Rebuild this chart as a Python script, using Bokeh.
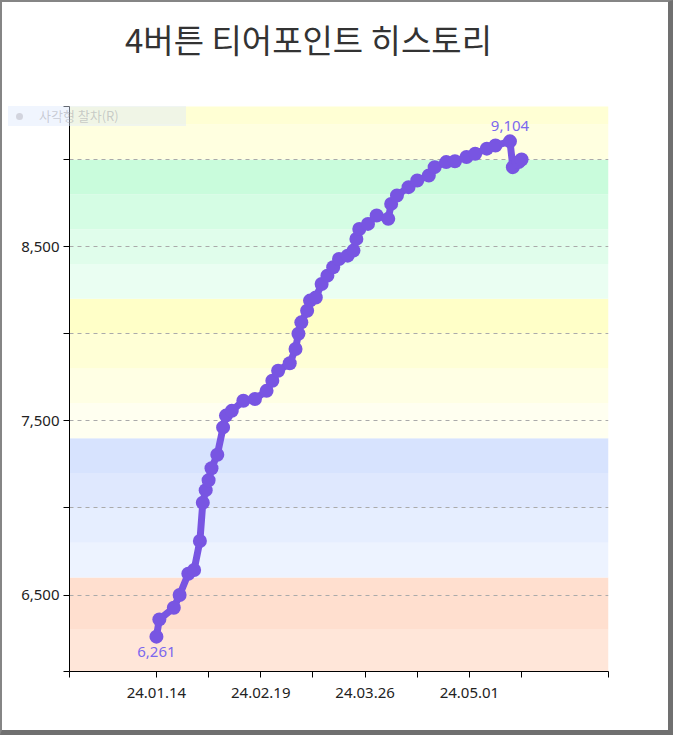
import numpy as np
from bokeh.plotting import figure
from bokeh.models import (Range1d, FixedTicker, ColumnDataSource, Div)
from bokeh.layouts import column
from bokeh.core.properties import value
from bokeh.embed import file_html
from bokeh.resources import INLINE

# ---------------- data ----------------
title_text = "4버튼 티어포인트 히스토리"
legend_label = "사각형 찰차(R)"

dates = ["2024-01-14", "2024-01-15", "2024-01-20", "2024-01-22", "2024-01-25",
         "2024-01-27", "2024-01-29", "2024-01-30", "2024-01-31", "2024-02-01",
         "2024-02-02", "2024-02-04", "2024-02-06", "2024-02-07", "2024-02-09",
         "2024-02-13", "2024-02-17", "2024-02-21", "2024-02-23", "2024-02-25",
         "2024-02-29", "2024-03-02", "2024-03-03", "2024-03-04", "2024-03-06",
         "2024-03-07", "2024-03-09", "2024-03-11", "2024-03-13", "2024-03-15",
         "2024-03-17", "2024-03-20", "2024-03-22", "2024-03-23", "2024-03-24",
         "2024-03-27", "2024-03-30", "2024-04-03", "2024-04-04", "2024-04-06",
         "2024-04-10", "2024-04-13", "2024-04-17", "2024-04-19", "2024-04-23",
         "2024-04-26", "2024-04-30", "2024-05-03", "2024-05-07", "2024-05-10",
         "2024-05-15", "2024-05-16", "2024-05-18", "2024-05-19"]

tier_points = [6261, 6360, 6427, 6500, 6622, 6644, 6810, 7030, 7102, 7159,
               7228, 7305, 7462, 7530, 7557, 7615, 7625, 7672, 7730, 7787,
               7830, 7912, 8000, 8065, 8132, 8190, 8208, 8285, 8333, 8381,
               8429, 8448, 8477, 8544, 8601, 8630, 8678, 8659, 8745, 8793,
               8841, 8879, 8908, 8956, 8985, 8990, 9014, 9033, 9062, 9080,
               9104, 8956, 8985, 9000]

band_low = [6000, 6300, 6600, 6800, 7000, 7200, 7400, 7600, 7800, 8000,
            8200, 8400, 8600, 8800, 9000, 9200]
band_high = [6300, 6600, 6800, 7000, 7200, 7400, 7600, 7800, 8000, 8200,
             8400, 8600, 8800, 9000, 9200, 9400]
band_colors = ["#ffe6d9", "#ffdfcf",
               "#edf3ff", "#e6eeff", "#dfe8fe", "#d7e3fe",
               "#fffff0", "#ffffe4", "#ffffd6", "#ffffc8",
               "#eafef2", "#e0fdeb", "#d5fde4", "#c9fcdc",
               "#ffffe0", "#ffffd4"]

y_grid_ticks = [6500, 7000, 7500, 8000, 8500, 9000]
y_labels = {6500: "6,500", 7500: "7,500", 8500: "8,500"}
x_tick_step_days = 18

# ---------------- derived ----------------
d = np.array(dates, dtype="datetime64[D]")
x_days = (d - d[0]).astype(int)
y = np.array(tier_points)

x_start = int(x_days.min()) - 30
x_end = int(x_days.max()) + 30
y_start = int(y.min()) - 200
y_end = int(y.max()) + 200

line_color = "#7855e2"
label_color = "#7b68ee"

p = figure(width=666, height=728, output_backend="svg", toolbar_location=None,
           x_range=Range1d(x_start, x_end), y_range=Range1d(y_start, y_end),
           min_border_left=67, min_border_right=60, min_border_top=104,
           min_border_bottom=59)
p.outline_line_color = None
p.background_fill_color = "white"
p.border_fill_color = "white"

# tier bands
bsrc = ColumnDataSource(dict(bottom=band_low, top=band_high, color=band_colors,
                             left=[x_start] * len(band_low),
                             right=[x_end] * len(band_low)))
p.quad(left="left", right="right", bottom="bottom", top="top", fill_color="color",
       line_color=None, source=bsrc, level="image")

# grid
p.xgrid.visible = False
p.ygrid.ticker = FixedTicker(ticks=y_grid_ticks)
p.ygrid.grid_line_color = "#aaaaaa"
p.ygrid.grid_line_dash = "4 4"
p.ygrid.grid_line_width = 1
p.ygrid.level = "underlay"

# line + points
src = ColumnDataSource(dict(x=x_days, y=y))
p.line("x", "y", source=src, line_width=7, line_color=line_color, line_join="round")
p.scatter("x", "y", source=src, size=14, fill_color=line_color, line_color=None)

# min / max labels
imax = int(np.argmax(y))
imin = int(np.argmin(y))
asrc = ColumnDataSource(dict(x=[x_days[imax], x_days[imin]], y=[y[imax], y[imin]],
                             t=[f"{y[imax]:,}", f"{y[imin]:,}"],
                             yo=[-10, 10], bl=["bottom", "top"]))
p.text("x", "y", text="t", source=asrc, y_offset="yo", text_baseline="bl",
       text_align="center", text_color=label_color, text_font_size="15px",
       text_font=value("Noto Sans"))

# axes
ax = p.xaxis[0]
x_ticks = list(range(int(x_days.min()), int(x_days.max()) + 1, x_tick_step_days))
ax.ticker = FixedTicker(ticks=[x_start] + x_ticks + [x_end])
ovr = {x_start: "", x_end: ""}
for i, t in enumerate(x_ticks):
    if i % 2 == 0:
        dt = d[0] + np.timedelta64(t, "D")
        s = str(dt)
        ovr[t] = s[2:4] + "." + s[5:7] + "." + s[8:10]
    else:
        ovr[t] = ""
ax.major_label_overrides = ovr

ay = p.yaxis[0]
ay.ticker = FixedTicker(ticks=[y_start] + y_grid_ticks + [y_end])
yovr = {y_start: "", y_end: ""}
for t in y_grid_ticks:
    yovr[t] = y_labels.get(t, "")
ay.major_label_overrides = yovr

for a in (ax, ay):
    a.axis_line_color = "black"
    a.axis_line_width = 1
    a.major_tick_line_color = "black"
    a.major_tick_out = 6
    a.major_tick_in = 0
    a.minor_tick_line_color = None
    a.major_label_text_font = "Noto Sans"
    a.major_label_text_font_size = "15px"
    a.major_label_text_color = "#222222"
ax.major_label_standoff = 10
ay.major_label_standoff = 4

# title (overlay text box above the plot)
title_div = Div(
    text=(f'<div style="font-family:\'Noto Sans CJK KR\';font-size:33px;'
          f'line-height:40px;color:#333333;white-space:nowrap;">{title_text}</div>'),
    styles={"position": "absolute", "left": "118px", "top": "12px"},
    width=420, height=40)

# faint legend (sits across the left border, so drawn as an overlay box)
legend_div = Div(
    text=(f'<div style="display:flex;align-items:center;height:20px;width:178px;'
          f'background:rgba(222,232,252,0.45);font-family:\'Noto Sans CJK KR\';'
          f'font-size:13px;color:rgba(150,150,160,0.45);">'
          f'<span style="display:inline-block;width:7px;height:7px;border-radius:50%;'
          f'background:rgba(190,190,200,0.6);margin-left:8px;margin-right:16px;"></span>'
          f'{legend_label}</div>'),
    styles={"position": "absolute", "left": "1px", "top": "99px"},
    width=178, height=20)

layout = column(p, title_div, legend_div,
                styles={"border-top": "2px solid #858585",
                        "border-left": "2px solid #858585",
                        "border-right": "5px solid #707070",
                        "border-bottom": "5px solid #707070"})

open("out.html", "w").write(file_html(layout, INLINE))
